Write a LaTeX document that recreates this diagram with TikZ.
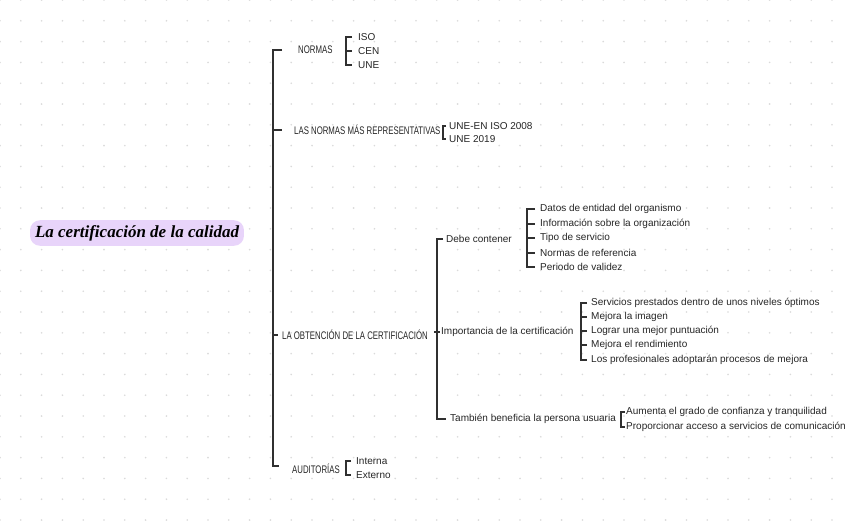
\documentclass[tikz,border=0pt]{standalone}
\usepackage{fontspec}
\setmainfont{Liberation Sans}
\newfontfamily\headfont[FakeStretch=0.71]{Liberation Sans}
\newfontfamily\titlefont{Liberation Serif}
\definecolor{ln}{HTML}{303030}
\definecolor{txt}{HTML}{262626}
\definecolor{dotc}{HTML}{DADADA}
\definecolor{lav}{HTML}{E8D4FA}
\begin{document}
\begin{tikzpicture}[x=1pt,y=-1pt,
  item/.style={anchor=west, inner sep=0pt, text=txt, font=\fontsize{10}{11}\selectfont},
  head/.style={anchor=west, inner sep=0pt, text=txt, font=\headfont\fontsize{11}{12}\selectfont},
  br/.style={draw=ln, line width=1.2pt},
  mainbr/.style={draw=ln, line width=1.8pt}]
\useasboundingbox (0,0) rectangle (848,530);
\fill[white] (0,0) rectangle (848,530);
% dot grid
\foreach \i in {0,...,40}{\foreach \j in {0,...,25}{\fill[dotc] (\i*20.8,\j*20.8) circle (0.9);}}
% title
\node[fill=lav, rounded corners=10pt, inner xsep=5pt, inner ysep=5pt, text=black,
  font=\titlefont\bfseries\itshape\fontsize{17}{18}\selectfont] (title) at (137,233) {La certificación de la calidad};
% level 1
\node[head] (normas) at (298,50) {NORMAS};
\node[head] (lasnormas) at (294,130) {LAS NORMAS MÁS REPRESENTATIVAS};
\node[head] (obt) at (282,335) {LA OBTENCIÓN DE LA CERTIFICACIÓN};
\node[head] (aud) at (292,469) {AUDITORÍAS};
% normas
\node[item] (iso) at (358,37) {ISO};
\node[item] (cen) at (358,51) {CEN};
\node[item] (une) at (358,65) {UNE};
% las normas
\node[item] (uneen) at (449,126) {UNE-EN ISO 2008};
\node[item] (une19) at (449,139) {UNE 2019};
% obtencion
\node[item] (debe) at (446,239) {Debe contener};
\node[item] (imp) at (441,332) {Importancia de la certificación};
\node[item] (tamb) at (450,419) {También beneficia la persona usuaria};
\node[item] (d1) at (540,209) {Datos de entidad del organismo};
\node[item] (d2) at (540,224) {Información sobre la organización};
\node[item] (d3) at (540,238) {Tipo de servicio};
\node[item] (d4) at (540,253) {Normas de referencia};
\node[item] (d5) at (540,267) {Periodo de validez};
\node[item] (i1) at (591,303) {Servicios prestados dentro de unos niveles óptimos};
\node[item] (i2) at (591,317) {Mejora la imagen};
\node[item] (i3) at (591,331) {Lograr una mejor puntuación};
\node[item] (i4) at (591,345) {Mejora el rendimiento};
\node[item] (i5) at (591,360) {Los profesionales adoptarán procesos de mejora};
\node[item] (t1) at (626,412) {Aumenta el grado de confianza y tranquilidad};
\node[item] (t2) at (626,427) {Proporcionar acceso a servicios de comunicación};
% auditorias
\node[item] (a1) at (356,461) {Interna};
\node[item] (a2) at (356,475) {Externo};
% bracket x positions
\coordinate (m) at (273,0);
\coordinate (bn) at (346,0);
\coordinate (bl) at (443,0);
\coordinate (bo) at (437,0);
\coordinate (bd) at (527,0);
\coordinate (bi) at (581,0);
\coordinate (bt) at (621,0);
\coordinate (ba) at (346,0);
% main bracket
\draw[mainbr] ([xshift=-16pt]normas.west) -- (normas.west -| m) -- ([yshift=3pt]aud.west -| m) -- ([xshift=-13pt,yshift=3pt]aud.west);
\draw[mainbr] (lasnormas.west -| m) -- ([xshift=-12pt]lasnormas.west);
\draw[mainbr] (obt.west -| m) -- ([xshift=-4pt]obt.west);
% normas bracket
\draw[br] ([xshift=-6pt]iso.west) -- (iso.west -| bn) -- (une.west -| bn) -- ([xshift=-6pt]une.west);
\draw[br] (cen.west -| bn) -- ([xshift=-6pt]cen.west);
% las normas bracket
\draw[br] ([xshift=-3pt]uneen.west) -- (uneen.west -| bl) -- (une19.west -| bl) -- ([xshift=-3pt]une19.west);
% obtencion bracket
\draw[br] ([xshift=-3pt]debe.west) -- (debe.west -| bo) -- (tamb.west -| bo) -- ([xshift=-4pt]tamb.west);
\draw[br] ([xshift=-3pt]imp.west -| bo) -- ([xshift=-1pt]imp.west);
% debe bracket
\draw[br] ([xshift=-5pt]d1.west) -- (d1.west -| bd) -- (d5.west -| bd) -- ([xshift=-5pt]d5.west);
\foreach \n in {d2,d3,d4}{\draw[br] (\n.west -| bd) -- ([xshift=-5pt]\n.west);}
% importancia bracket
\draw[br] ([xshift=-4pt]i1.west) -- (i1.west -| bi) -- (i5.west -| bi) -- ([xshift=-4pt]i5.west);
\foreach \n in {i2,i3,i4}{\draw[br] (\n.west -| bi) -- ([xshift=-4pt]\n.west);}
% tambien bracket
\draw[br] ([xshift=-1pt]t1.west) -- (t1.west -| bt) -- (t2.west -| bt) -- ([xshift=-1pt]t2.west);
% auditorias bracket
\draw[br] ([xshift=-5pt]a1.west) -- (a1.west -| ba) -- (a2.west -| ba) -- ([xshift=-5pt]a2.west);
\end{tikzpicture}
\end{document}
